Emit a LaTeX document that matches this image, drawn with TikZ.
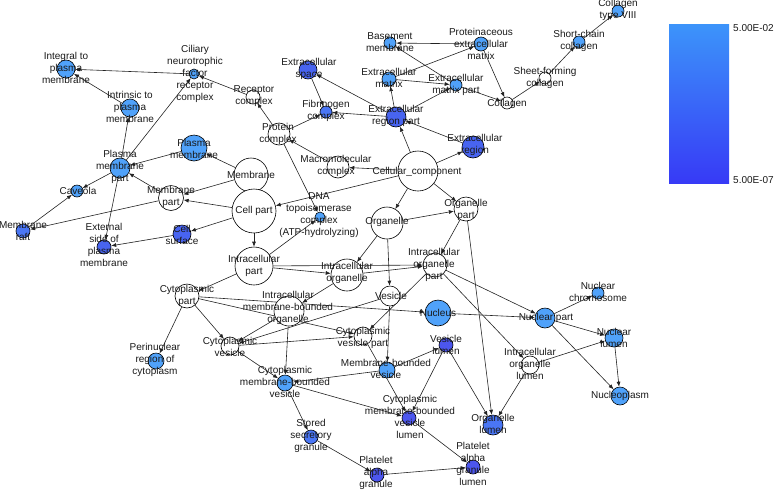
\documentclass[tikz,border=0pt]{standalone}
\usepackage{fontspec}
\setmainfont{Liberation Sans}
\usetikzlibrary{arrows.meta,backgrounds}
\definecolor{lb}{RGB}{80,162,250}
\definecolor{mb}{RGB}{74,118,244}
\definecolor{db}{RGB}{76,86,238}
\definecolor{eb}{RGB}{72,100,240}
\definecolor{txt}{RGB}{25,25,25}
\definecolor{edgec}{RGB}{35,35,35}
\definecolor{bartop}{RGB}{60,148,250}
\definecolor{barbot}{RGB}{55,58,246}
\newcommand{\GN}[5]{\node[gn,fill=#5,minimum size=#4pt] (#1) at (#2,#3) {};}
\newcommand{\GL}[4]{\node[lbl] (#1-l) at (#2,#3) {#4};}
\begin{document}
\begin{tikzpicture}[x=1pt,y=-1pt,
  gn/.style={circle,draw=black,line width=0.6pt,inner sep=0pt},
  lbl/.style={align=center,inner sep=0pt,text=txt,font=\fontsize{10}{12}\selectfont},
  edge/.style={draw=edgec,line width=0.6pt,-{Latex[length=5pt,width=4pt]}}]
\useasboundingbox (0,0) rectangle (774,491);
% nodes
\GN{cc}{418}{171}{40}{white}
\GN{mc}{338}{167}{22}{white}
\GN{pc}{279}{134}{22}{white}
\GN{rc}{253}{97}{14}{white}
\GN{cnf}{194}{74}{10}{lb}
\GN{ipm}{66}{69}{18}{lb}
\GN{intr}{130}{108}{18}{lb}
\GN{pm}{194}{148}{26}{lb}
\GN{pmp}{120}{168}{20}{lb}
\GN{cav}{77}{191}{12}{lb}
\GN{raft}{23}{231}{14}{mb}
\GN{espm}{104}{247}{14}{eb}
\GN{mp}{171}{198}{25}{white}
\GN{mem}{251}{175}{34}{white}
\GN{cp}{254}{211}{44}{white}
\GN{cs}{182}{234}{18}{eb}
\GN{ip}{254}{266}{38}{white}
\GN{cyp}{187}{296}{24}{white}
\GN{peri}{156}{361}{16}{lb}
\GN{cv}{230}{346}{18}{white}
\GN{imbo}{289}{311}{30}{white}
\GN{cvp}{363}{336}{18}{white}
\GN{ves}{390}{296}{20}{white}
\GN{mbv}{387}{370}{16}{lb}
\GN{cmbv}{285}{383}{16}{lb}
\GN{ssg}{311}{437}{14}{mb}
\GN{pag}{377}{475}{14}{db}
\GN{pagl}{473}{467}{14}{db}
\GN{cmbvl}{409}{418}{14}{db}
\GN{vl}{446}{345}{14}{db}
\GN{ol}{493}{425}{20}{mb}
\GN{iol}{530}{365}{18}{white}
\GN{nuc}{438}{313}{26}{lb}
\GN{np}{545}{318}{20}{lb}
\GN{nc}{598}{293}{12}{lb}
\GN{nl}{614}{338}{18}{lb}
\GN{nplasm}{620}{396}{18}{lb}
\GN{iop}{435}{265}{24}{white}
\GN{io}{347}{275}{32}{white}
\GN{org}{387}{223}{32}{white}
\GN{op}{466}{209}{24}{white}
\GN{dna}{320}{217}{10}{lb}
\GN{es}{308}{70}{18}{eb}
\GN{fc}{326}{112}{12}{mb}
\GN{erp}{396}{117}{20}{eb}
\GN{er}{473}{147}{22}{eb}
\GN{em}{389}{79}{14}{lb}
\GN{emp}{456}{85}{12}{lb}
\GN{bm}{390}{43}{12}{lb}
\GN{pecm}{481}{44}{14}{lb}
\GN{col}{507}{103}{12}{white}
\GN{sfc}{545}{78}{12}{white}
\GN{scc}{579}{42}{12}{lb}
\GN{c8}{618}{11}{12}{lb}
% edges
\begin{pgfonlayer}{background}
\foreach \a/\b in {cc/mc,cc/cp,cc/org,cc/op,cc/er,cc/erp,mc/pc,pc/rc,pc/fc,pc/dna,rc/cnf,ip/dna,
  pmp/cnf,cnf/ipm,intr/ipm,pmp/intr,pm/pmp,mem/pm,mp/pmp,mem/mp,cp/mem,cp/mp,cp/cs,cs/espm,pmp/espm,pmp/cav,mp/raft,raft/cav,
  cp/ip,ip/cyp,ip/io,ip/iop,io/iop,org/io,org/op,org/ves,op/iop,op/ol,iop/np,iop/iol,iop/cvp,
  cyp/peri,cyp/cv,cyp/cvp,cyp/nuc,io/imbo,imbo/cv,imbo/cmbv,ves/cv,ves/mbv,cv/cvp,cv/cmbv,mbv/cmbv,cmbv/ssg,cmbv/cmbvl,
  ssg/pag,pag/pagl,cmbvl/pagl,cvp/cmbvl,vl/cmbvl,mbv/vl,vl/ol,iol/ol,iol/nl,np/nl,np/nplasm,np/nc,nl/nplasm,nuc/np,
  erp/es,erp/fc,es/fc,erp/em,erp/emp,em/emp,em/pecm,pecm/bm,emp/bm,pecm/col,emp/col,col/sfc,sfc/scc,scc/c8,er/erp}
  {\draw[edge] (\a) -- (\b);}
\end{pgfonlayer}
% labels
\GL{cc}{417}{172}{Cellular\_component}
\GL{mc}{336}{166}{Macromolecular\\complex}
\GL{pc}{278}{134}{Protein\\complex}
\GL{rc}{254}{96}{Receptor\\complex}
\GL{cnf}{195}{74}{Ciliary\\neurotrophic\\factor\\receptor\\complex}
\GL{ipm}{66}{68}{Integral to\\plasma\\membrane}
\GL{intr}{130}{107}{Intrinsic to\\plasma\\membrane}
\GL{pm}{194}{149}{Plasma\\membrane}
\GL{pmp}{120}{167}{Plasma\\membrane\\part}
\GL{cav}{78}{191}{Caveola}
\GL{raft}{23}{231}{Membrane\\raft}
\GL{espm}{104}{245}{External\\side of\\plasma\\membrane}
\GL{mp}{171}{197}{Membrane\\part}
\GL{mem}{251}{175}{Membrane}
\GL{cp}{254}{211}{Cell part}
\GL{cs}{182}{235}{Cell\\surface}
\GL{ip}{254}{266}{Intracellular\\part}
\GL{cyp}{187}{296}{Cytoplasmic\\part}
\GL{peri}{155}{360}{Perinuclear\\region of\\cytoplasm}
\GL{cv}{230}{347}{Cytoplasmic\\vesicle}
\GL{imbo}{288}{308}{Intracellular\\membrane-bounded\\organelle}
\GL{cvp}{363}{338}{Cytoplasmic\\vesicle part}
\GL{ves}{391}{296}{Vesicle}
\GL{mbv}{386}{369}{Membrane-bounded\\vesicle}
\GL{cmbv}{285}{382}{Cytoplasmic\\membrane-bounded\\vesicle}
\GL{ssg}{311}{436}{Stored\\secretory\\granule}
\GL{pag}{376}{473}{Platelet\\alpha\\granule}
\GL{pagl}{473}{464}{Platelet\\alpha\\granule\\lumen}
\GL{cmbvl}{410}{417}{Cytoplasmic\\membrane-bounded\\vesicle\\lumen}
\GL{vl}{446}{345}{Vesicle\\lumen}
\GL{ol}{493}{424}{Organelle\\lumen}
\GL{iol}{530}{364}{Intracellular\\organelle\\lumen}
\GL{nuc}{438}{313}{Nucleus}
\GL{np}{546}{318}{Nuclear part}
\GL{nc}{598}{292}{Nuclear\\chromosome}
\GL{nl}{614}{338}{Nuclear\\lumen}
\GL{nplasm}{620}{396}{Nucleoplasm}
\GL{iop}{434}{265}{Intracellular\\organelle\\part}
\GL{io}{347}{273}{Intracellular\\organelle}
\GL{org}{387}{222}{Organelle}
\GL{op}{466}{210}{Organelle\\part}
\GL{dna}{319}{215}{DNA\\topoisomerase\\complex\\(ATP-hydrolyzing)}
\GL{es}{309}{69}{Extracellular\\space}
\GL{fc}{326}{111}{Fibrinogen\\complex}
\GL{erp}{396}{116}{Extracellular\\region part}
\GL{er}{475}{145}{Extracellular\\region}
\GL{em}{389}{78}{Extracellular\\matrix}
\GL{emp}{456}{85}{Extracellular\\matrix part}
\GL{bm}{390}{42}{Basement\\membrane}
\GL{pecm}{481}{44}{Proteinaceous\\extracellular\\matrix}
\GL{col}{507}{104}{Collagen}
\GL{sfc}{545}{78}{Sheet-forming\\collagen}
\GL{scc}{579}{41}{Short-chain\\collagen}
\GL{c8}{618}{10}{Collagen\\type VIII}
% colour bar
\node[inner sep=0pt,minimum width=60pt,minimum height=159pt,top color=bartop,bottom color=barbot] (bar) at (699,103.5) {};
\node[lbl,anchor=west] (bar-hi) at (733,28) {5.00E-02};
\node[lbl,anchor=west] (bar-lo) at (733,180) {5.00E-07};
\end{tikzpicture}
\end{document}
